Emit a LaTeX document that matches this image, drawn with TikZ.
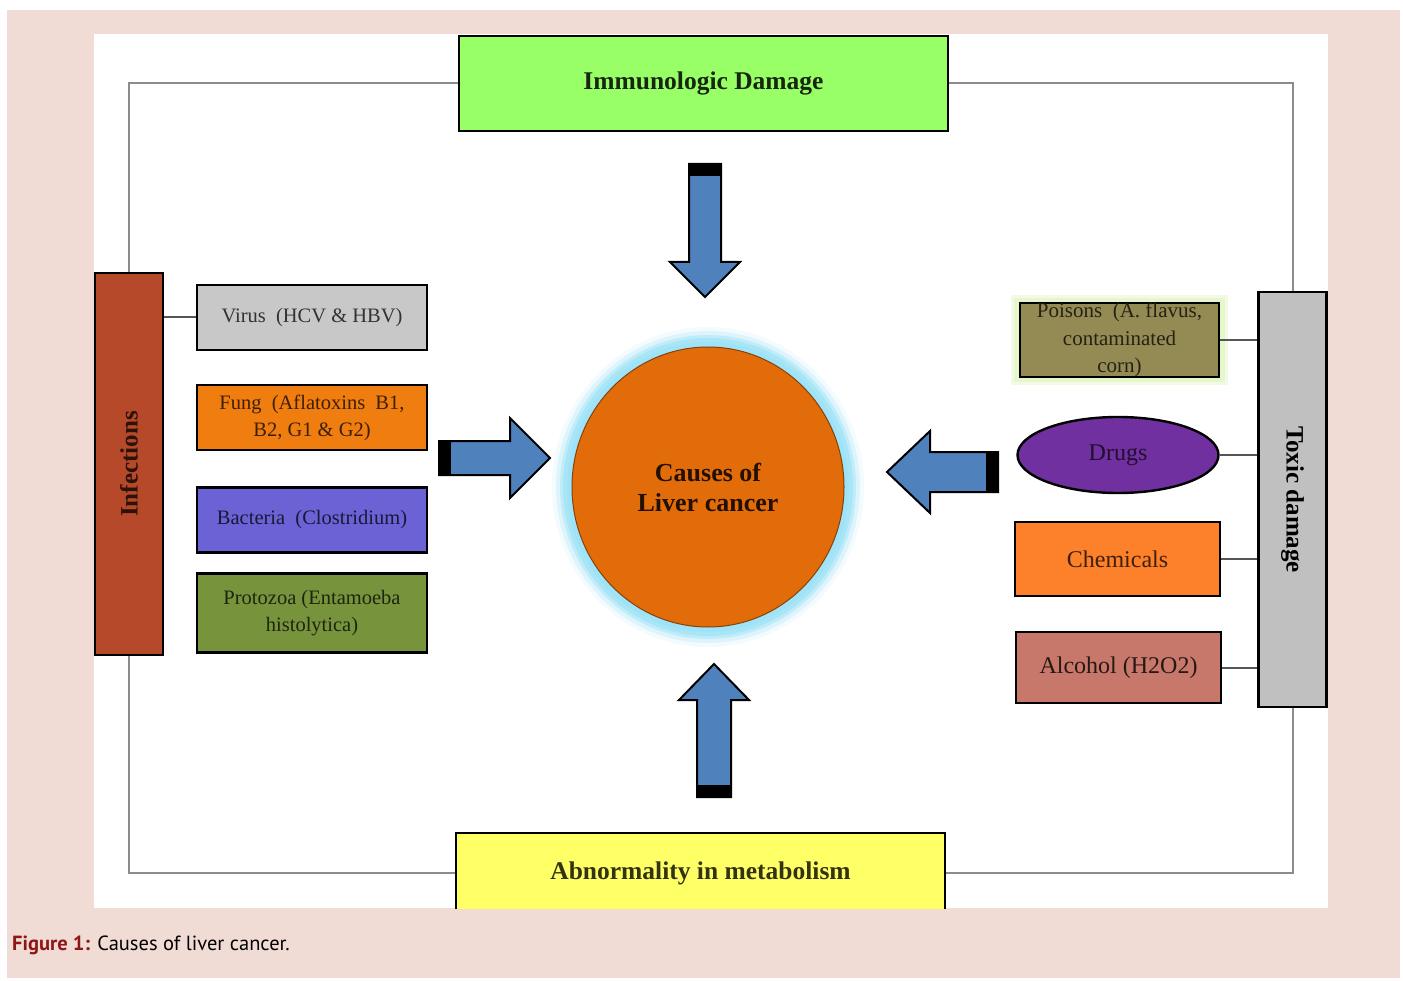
\documentclass[tikz,border=0pt]{standalone}
\usepackage{fontspec}
\setmainfont{Liberation Serif}
\newfontfamily\capfont{PT Sans}
\usepackage{tikz}
\usetikzlibrary{shapes.geometric,positioning,calc}

\definecolor{pinkbg}{HTML}{F0DCD4}
\definecolor{immunoc}{HTML}{99FF66}
\definecolor{metabc}{HTML}{FFFF66}
\definecolor{infectc}{HTML}{B5492A}
\definecolor{toxicc}{HTML}{C0C0C0}
\definecolor{virusc}{HTML}{C8C8C8}
\definecolor{fungc}{HTML}{F07D10}
\definecolor{bactc}{HTML}{6B62D6}
\definecolor{protoc}{HTML}{77933C}
\definecolor{poisonc}{HTML}{948A54}
\definecolor{poisonglow}{HTML}{E6F7CC}
\definecolor{drugc}{HTML}{7030A0}
\definecolor{chemc}{HTML}{FD802B}
\definecolor{alcc}{HTML}{C8786A}
\definecolor{corec}{HTML}{E36C0A}
\definecolor{glowc}{HTML}{9EE3F7}
\definecolor{arrblue}{HTML}{4F81BD}
\definecolor{framegray}{HTML}{8C8C8C}
\definecolor{linkgray}{HTML}{555555}
\definecolor{capred}{HTML}{8E1616}

\begin{document}
\begin{tikzpicture}[x=1pt, y=-1pt,
  box/.style   = {rectangle, draw, line width=2.4pt, inner sep=0pt, align=center},
  cause/.style = {box, minimum width=230pt, minimum height=65pt,
                  font=\fontsize{20.5}{27}\selectfont},
  tox/.style   = {box, minimum width=204pt, minimum height=74pt,
                  font=\fontsize{24}{28}\selectfont},
  head/.style  = {box, minimum width=489pt, minimum height=95pt,
                  font=\fontsize{25.5}{30}\selectfont\bfseries},
  bar/.style   = {box, minimum width=68pt},
  bartext/.style = {font=\fontsize{25}{30}\selectfont\bfseries},
  frame/.style = {draw=framegray, line width=2pt},
  link/.style  = {draw=linkgray, line width=2pt},
  blk/.style   = {fill=arrblue, draw=black, line width=2pt, line join=miter}
]
\useasboundingbox (0,0) rectangle (1403,981);
\fill[pinkbg] (7,10) rectangle (1400,978);
\fill[white] (94,34) rectangle (1328,908);

\begin{scope}
\clip (94,34) rectangle (1328,908);

% top and bottom headings
\node[head, fill=immunoc, text=immunoc!15!black] (immuno) at (703.5,83.5) {\raisebox{-3pt}{Immunologic Damage}};
\node[head, fill=metabc, text=metabc!20!black, minimum height=80pt] (metab) at (700.5,873) {Abnormality in metabolism};

% side bars
\node[bar, fill=infectc, minimum height=382pt,
      label={[bartext, rotate=90, text=infectc!25!black]center:Infections}] (infect) at (129,464) {};
\node[bar, fill=toxicc, minimum height=415pt,
      label={[bartext, rotate=-90]center:Toxic damage}] (toxic) at (1292.5,499.5) {};

% infections column
\node[cause, fill=virusc, text=virusc!25!black]  (virus) at (312,317.5) {Virus\ \ (HCV \& HBV)};
\node[cause, fill=fungc,  text=fungc!25!black]   (fung)  at (312,417.5) {Fung\ \ (Aflatoxins\ \ B1,\\B2, G1 \& G2)};
\node[cause, fill=bactc,  text=bactc!25!black]   (bact)  at (312,520)   {Bacteria\ \ (Clostridium)};
\node[cause, fill=protoc, text=protoc!25!black, minimum height=79pt] (proto) at (312,613) {Protozoa (Entamoeba\\histolytica)};

% toxic damage column
\fill[poisonglow, opacity=0.5] (1011,295) rectangle (1228,385);
\fill[poisonglow] (1014,298) rectangle (1225,382);
\node[tox, fill=poisonc, minimum width=199pt,
      label={[font=\fontsize{21}{27.5}\selectfont, text=poisonc!25!black, align=center]center:Poisons\ \ (A. flavus,\\contaminated\\corn)}] (poison) at (1119.5,340) {};
\node[ellipse, draw, line width=2.4pt, fill=drugc, text=drugc!30!black, inner sep=0pt,
      minimum width=201pt, minimum height=76pt, font=\fontsize{24}{28}\selectfont] (drugs) at (1118,455) {Drugs};
\node[tox, fill=chemc, text=chemc!25!black, minimum width=205pt] (chem) at (1117.5,559) {Chemicals};
\node[tox, fill=alcc, text=alcc!20!black, minimum width=205pt, minimum height=71pt] (alc) at (1118.5,667.5) {Alcohol (H2O2)};

% centre
\coordinate (mid) at (708,487);
\foreach \g/\o in {20/0.12, 16/0.25, 12/0.45, 9/0.7, 5/1}
  \fill[glowc, opacity=\o] (mid) ellipse [x radius=136pt+\g pt, y radius=140pt+\g pt];
\node[ellipse, fill=corec, draw=corec!60!black, line width=1pt, inner sep=0pt,
      minimum width=272pt, minimum height=280pt, align=center, text=corec!15!black,
      font=\fontsize{26}{30}\selectfont\bfseries] (core) at (mid) {Causes of\\Liver cancer};

% block arrows towards the centre
\foreach \tx/\ty/\ang/\sl/\sh/\hl/\hh in {439/458/0/71/17/40/40, 998/472/180/68/20/43/41,
                                          705/164/-90/98/16/35/35, 714/797/90/97/17/36/35}
{
  \begin{scope}[shift={(\tx,\ty)}, rotate=\ang]
    \filldraw[blk] (0,-\sh) -- (\sl,-\sh) -- (\sl,-\hh) -- ({\sl+\hl},0)
                   -- (\sl,\hh) -- (\sl,\sh) -- (0,\sh) -- cycle;
    \fill (0,-\sh) rectangle (12,\sh);
  \end{scope}
}

% outer frame
\draw[frame] (immuno.west) -| (infect.north);
\draw[frame] (infect.south) |- (metab.west);
\draw[frame] (immuno.east) -| (toxic.north);
\draw[frame] (toxic.south) |- (metab.east);

% links to the side bars
\draw[link] (virus.west) -- (virus.west -| infect.east);
\draw[link] (poison.east) -- (poison.east -| toxic.west);
\draw[link] (drugs.east) -- (drugs.east -| toxic.west);
\draw[link] (chem.east) -- (chem.east -| toxic.west);
\draw[link] (alc.east) -- (alc.east -| toxic.west);
\end{scope}

% caption
\node[anchor=base west, inner sep=0pt, font=\capfont\fontsize{20.5}{25}\selectfont] (caption) at (12,950)
  {{\color{capred}\bfseries Figure 1:} Causes of liver cancer.};
\end{tikzpicture}
\end{document}
